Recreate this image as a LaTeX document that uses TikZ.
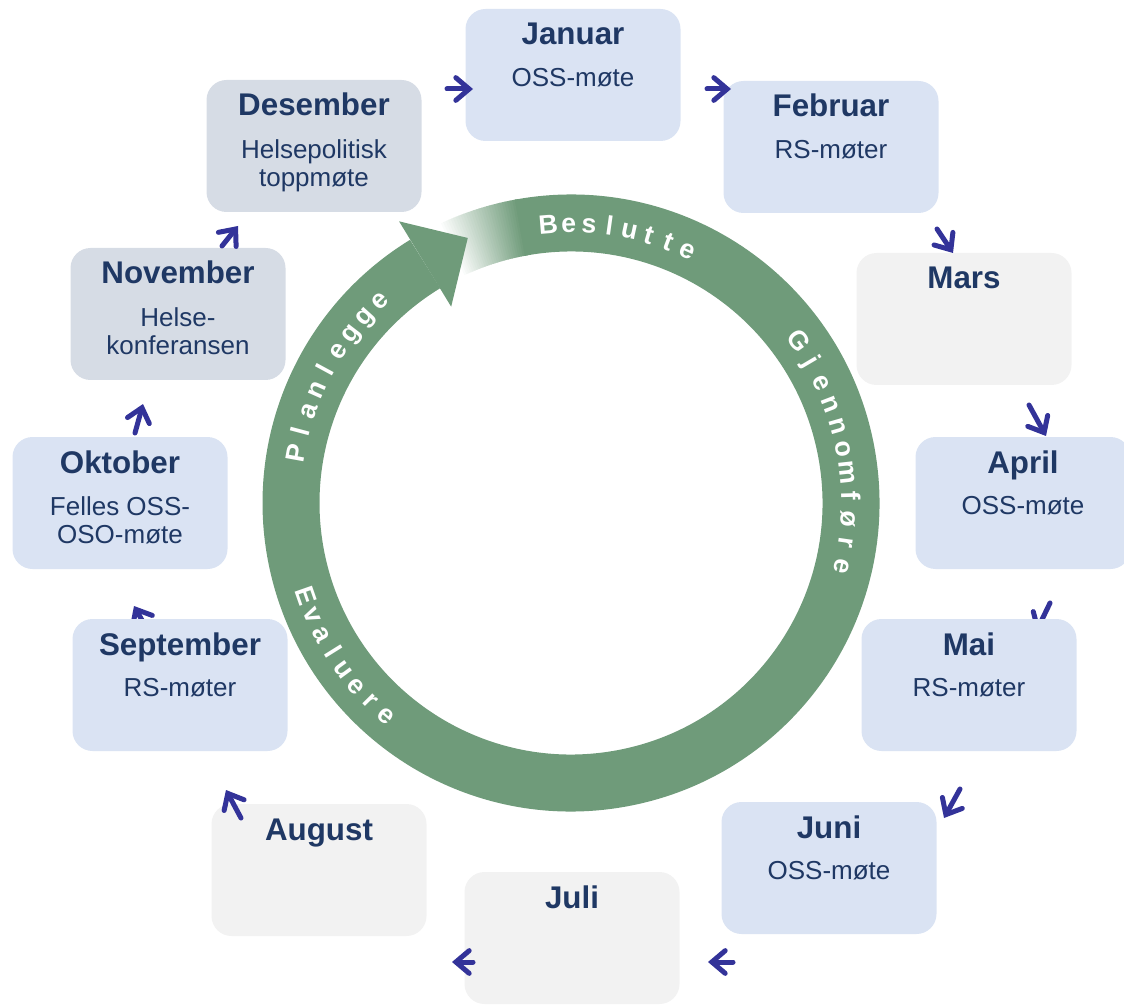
\documentclass[tikz,border=0pt]{standalone}
\usepackage{fontspec}
\setmainfont{Liberation Sans}
\usetikzlibrary{arrows.meta,calc}
\definecolor{navy}{RGB}{31,56,100}
\definecolor{boxblue}{RGB}{218,227,243}
\definecolor{boxslate}{RGB}{214,220,229}
\definecolor{boxgray}{RGB}{242,242,242}
\definecolor{ringgreen}{RGB}{111,155,122}
\definecolor{arrowblue}{RGB}{51,51,153}
% one month: name, centre x, centre y, fill, title, text
\newcommand{\calbox}[6]{%
  \node[calbox, fill=#4] (#1) at (#2,#3) {};
  \node[boxtitle] (#1-t) at (#2,#3-30) {#5};
  \node[boxsub] (#1-s) at (#2,#3-7) {#6};
}

\begin{document}
\begin{tikzpicture}[x=0.75pt,y=0.75pt,yscale=-1,xscale=1,
  calbox/.style={rectangle, rounded corners=15pt, minimum width=161.25pt, minimum height=99pt, inner sep=0pt},
  boxtitle/.style={anchor=base, inner sep=0pt, text=navy, font=\bfseries\fontsize{23.5}{28}\selectfont},
  boxsub/.style={anchor=north, inner sep=0pt, align=center, text=navy, font=\fontsize{19.5}{21}\selectfont},
  flowarrow/.style={draw=arrowblue, line width=3.75pt, line cap=round, -{Straight Barb[length=10pt,width=17pt,line cap=round]}},
  ringband/.style={line width=42.75pt},
  ringletter/.style={anchor=base, inner sep=0pt, text=white, font=\bfseries\fontsize{20}{20}\selectfont}]
\useasboundingbox (0,0) rectangle (1124,1005);

% the cycle
\begin{scope}[shift={(571,503)},yscale=-1]
\foreach \i [evaluate=\i as \s using 115-\i*0.5, evaluate=\i as \p using (\i+1)*100/30] in {0,...,29}
  \draw[ringband, draw=ringgreen!\p!white] (\s:280) arc[start angle=\s, end angle=\s-0.7, radius=280];
\draw[ringband, draw=ringgreen] (100.5:280) arc[start angle=100.5, end angle=-238.6, radius=280];
\fill[ringgreen] (121.4:330) -- (121.4:230) -- ($(121.4:280)+(31.4:50)$) -- cycle;
\foreach \c [count=\i, evaluate=\i as \a using 94.7-(\i-1)*4.21] in {B,e,s,l,u,t,t,e}
  \node[ringletter, rotate=\a-90] (bes\i) at (\a:270.5) {\c};
\foreach \c [count=\i, evaluate=\i as \a using 35.4-(\i-1)*4.85] in {G,j,e,n,n,o,m,f,ø,r,e}
  \node[ringletter, rotate=\a-90] (gje\i) at (\a:270.5) {\c};
\foreach \c [count=\i, evaluate=\i as \a using 199.3+(\i-1)*4.23] in {E,v,a,l,u,e,r,e}
  \node[ringletter, rotate=\a+90] (eva\i) at (\a:289.5) {\c};
\foreach \c [count=\i, evaluate=\i as \a using 169.7-(\i-1)*4.54] in {P,l,a,n,l,e,g,g,e}
  \node[ringletter, rotate=\a-90] (pla\i) at (\a:270.5) {\c};
\end{scope}

% these two run behind the boxes
\foreach \n/\ax/\ay/\bx/\by in {aprmai/1050/603/1036/632, sepokt/152/638/134/606}{
  \coordinate (\n-a) at (\ax,\ay);
  \coordinate (\n-b) at (\bx,\by);
  \draw[flowarrow] (\n-a) -- (\n-b);
}

\calbox{jan}{573}{75}{boxblue}{Januar}{OSS-møte}
\calbox{feb}{831}{147}{boxblue}{Februar}{RS-møter}
\calbox{mar}{964}{319}{boxgray}{Mars}{}
\calbox{apr}{1023}{503}{boxblue}{April}{OSS-møte}
\calbox{mai}{969}{685}{boxblue}{Mai}{RS-møter}
\calbox{jun}{829}{868}{boxblue}{Juni}{OSS-møte}
\calbox{jul}{572}{938}{boxgray}{Juli}{}
\calbox{aug}{319}{870}{boxgray}{August}{}
\calbox{sep}{180}{685}{boxblue}{September}{RS-møter}
\calbox{okt}{120}{503}{boxblue}{Oktober}{Felles OSS-\\OSO-møte}
\calbox{nov}{178}{314}{boxslate}{November}{Helse-\\konferansen}
\calbox{dec}{314}{146}{boxslate}{Desember}{Helsepolitisk\\toppmøte}

% small arrows between the months
\foreach \n/\ax/\ay/\bx/\by in {decjan/447/89/473/89, janfeb/707/89/731/89, febmar/937/229/953/253,
    marapr/1029/405/1046/436, maijun/960/789/944/818,
    junjul/733/962/708/962, julaug/473/962/452/962, augsep/241/818/226/790,
    oktnov/135/433/143/404, novdec/222/246/238/226}{
  \coordinate (\n-a) at (\ax,\ay);
  \coordinate (\n-b) at (\bx,\by);
  \draw[flowarrow] (\n-a) -- (\n-b);
}
\end{tikzpicture}
\end{document}
